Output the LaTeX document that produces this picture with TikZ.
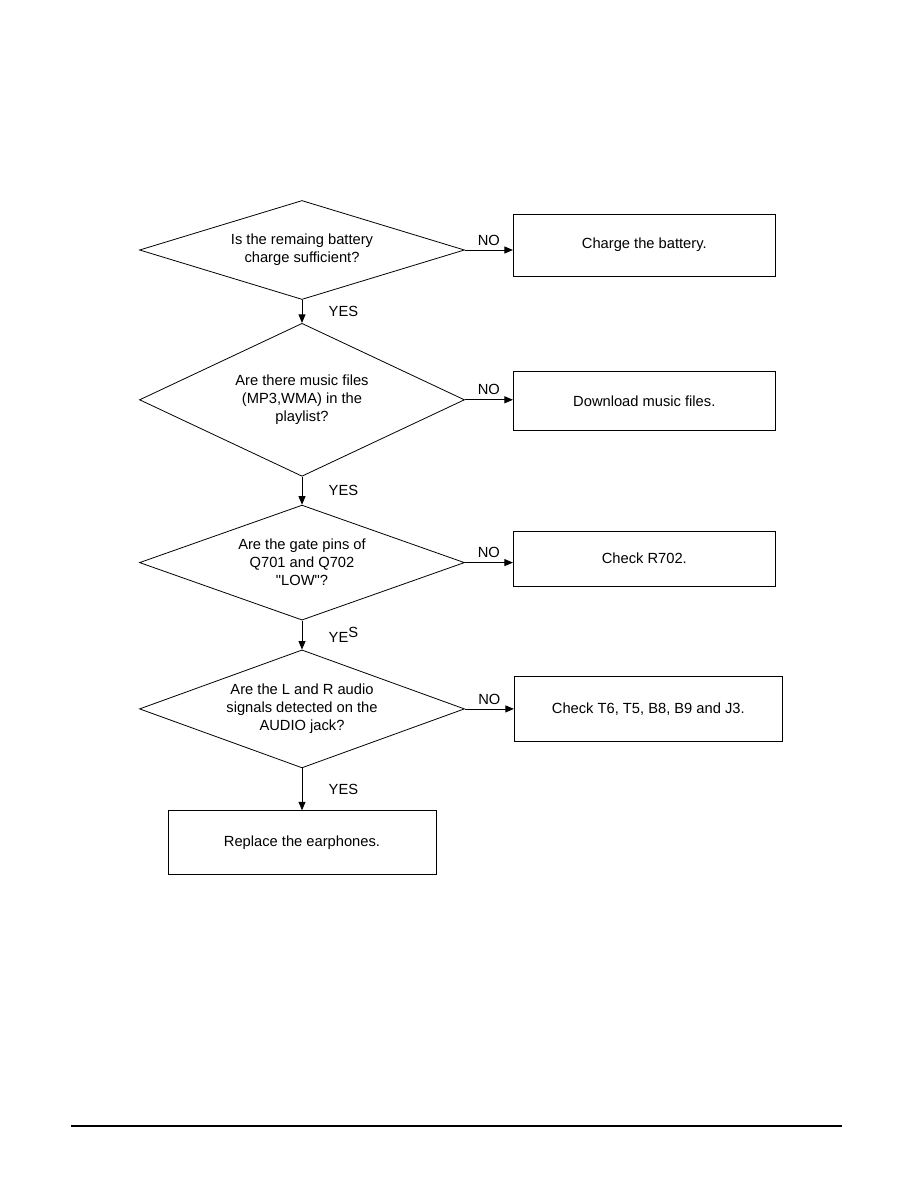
\documentclass[tikz,border=0pt]{standalone}
\usepackage{fontspec}
\newfontfamily\chartfont{Liberation Sans}
\usetikzlibrary{positioning,arrows.meta,shapes.geometric}

\tikzset{
  decision/.style={diamond, draw, aspect=2.8, inner sep=0pt, align=center, minimum width=325pt},
  action/.style={rectangle, draw, align=center, minimum width=262pt},
  flow/.style={->}
}

\begin{document}
\begin{tikzpicture}[x=1pt, y=1pt, >={Triangle[length=8.5pt,width=7pt]}, line width=0.8pt,
    font=\chartfont\fontsize{14.7}{18}\selectfont]
    \useasboundingbox (0,0) rectangle (918,-1190);

    % decisions
    \node[decision, minimum height=99pt] (d1) at (302,-250) {Is the remaing battery\\charge sufficient?};
    \node[decision, minimum height=153pt, below=23pt of d1] (d2) {Are there music files\\(MP3,WMA) in the\\playlist?};
    \node[decision, minimum height=115pt, below=28pt of d2] (d3) {Are the gate pins of\\Q701 and Q702\\"LOW"?};
    \node[decision, minimum height=118pt, below=29pt of d3] (d4) {Are the L and R audio\\signals detected on the\\AUDIO jack?};

    % actions
    \node[action, minimum height=62pt, right=48pt of d1, yshift=5pt] (b1) {Charge the battery.};
    \node[action, minimum height=59pt, right=48pt of d2, yshift=-1pt] (b2) {Download music files.};
    \node[action, minimum height=55pt, right=48pt of d3, yshift=4pt] (b3) {Check R702.};
    \node[action, minimum height=65pt, minimum width=268pt, right=49pt of d4] (b4) {Check T6, T5, B8, B9 and J3.};
    \node[action, minimum height=64pt, minimum width=268pt, below=42pt of d4] (b5) {Replace the earphones.};

    % YES branches
    \draw[flow] (d1) -- (d2) node[midway, right=23pt] {YES};
    \draw[flow] (d2) -- (d3) node[midway, right=23pt] {YES};
    \draw[flow] (d3) -- (d4) node[midway, right=23pt] {YE\raisebox{5pt}{S}};
    \draw[flow] (d4) -- (b5) node[midway, right=23pt] {YES};

    % NO branches
    \draw[flow] (d1.east) -- (d1.east -| b1.west) node[midway, above=1pt] {NO};
    \draw[flow] (d2.east) -- (d2.east -| b2.west) node[midway, above=1pt] {NO};
    \draw[flow] (d3.east) -- (d3.east -| b3.west) node[midway, above=1pt] {NO};
    \draw[flow] (d4.east) -- (d4.east -| b4.west) node[midway, above=1pt] {NO};

    % footer rule
    \draw[line width=1.2pt] (71,-1126) -- (842,-1126);
\end{tikzpicture}
\end{document}
